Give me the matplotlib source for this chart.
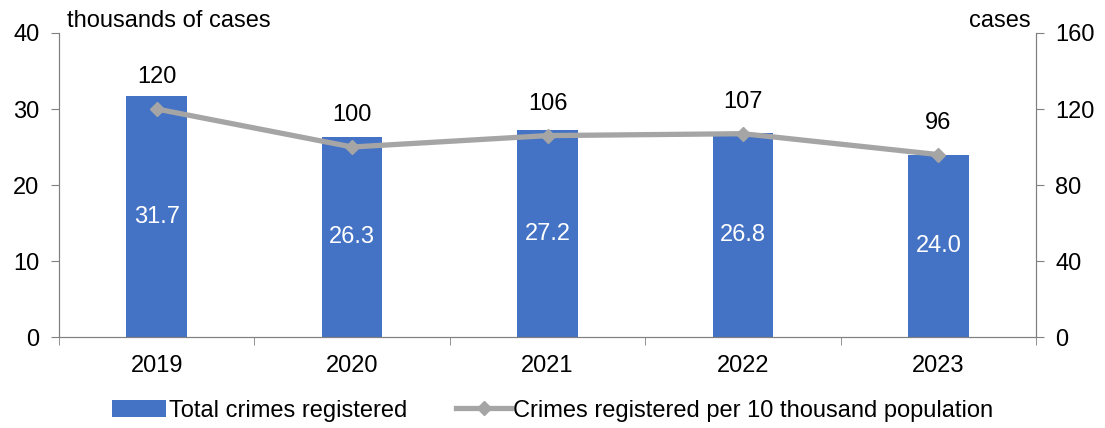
import matplotlib
matplotlib.use("Agg")
import matplotlib.pyplot as plt
import numpy as np

plt.rcParams['font.family'] = ['Liberation Sans', 'DejaVu Sans']

years = ["2019", "2020", "2021", "2022", "2023"]
total_crimes = [31.7, 26.3, 27.2, 26.8, 24.0]        # thousands of cases
crimes_per_10k = [120, 100, 106, 107, 96]           # cases

bar_color = "#4472C4"
line_color = "#A5A5A5"
axis_color = "#808080"
fs = 17

fig = plt.figure(figsize=(11.05, 4.28), dpi=100)
ax = fig.add_axes([0.0534, 0.2126, 0.8842, 0.7103])
ax2 = ax.twinx()

x = np.arange(len(years))
ax.bar(x, total_crimes, width=0.31, color=bar_color, label="Total crimes registered", zorder=2)
for xi, v in zip(x, total_crimes):
    ax.text(xi, v / 2, f"{v:.1f}", ha="center", va="center", color="white", fontsize=fs)

ax2.plot(x, crimes_per_10k, color=line_color, lw=3.8, marker="D", ms=7,
         label="Crimes registered per 10 thousand population", zorder=3)
for xi, v in zip(x, crimes_per_10k):
    ax2.annotate(str(v), (xi, v), xytext=(0, 23), textcoords="offset points",
                 ha="center", va="center", fontsize=fs)

ax.set_xlim(-0.5, 4.5)
ax.set_ylim(0, 40)
ax.set_yticks([0, 10, 20, 30, 40])
ax2.set_ylim(0, 160)
ax2.set_yticks([0, 40, 80, 120, 160])

ax.set_xticks(x)
ax.set_xticklabels(years)
ax.set_xticks(np.arange(-0.5, 5, 1), minor=True)
ax.tick_params(axis="x", which="major", length=0, pad=13, labelsize=fs)
ax.tick_params(axis="x", which="minor", length=6, color=axis_color, direction="out")
ax.tick_params(axis="y", length=6, color=axis_color, labelsize=fs, pad=8)
ax2.tick_params(axis="y", length=6, color=axis_color, labelsize=fs, pad=8)

for a in (ax, ax2):
    a.spines["top"].set_visible(False)
    for s in ("left", "right", "bottom"):
        a.spines[s].set_color(axis_color)

fig.text(0.061, 0.952, "thousands of cases", fontsize=fs, ha="left", va="center")
fig.text(0.933, 0.952, "cases", fontsize=fs, ha="right", va="center")

h1, l1 = ax.get_legend_handles_labels()
h2, l2 = ax2.get_legend_handles_labels()
fig.legend(h1 + h2, l1 + l2, loc="center", bbox_to_anchor=(0.5, 0.04), ncol=2,
           frameon=False, fontsize=fs, handlelength=2.3, handleheight=0.75,
           handletextpad=0.1, columnspacing=2.1)

fig.savefig("out.png", dpi=100)
